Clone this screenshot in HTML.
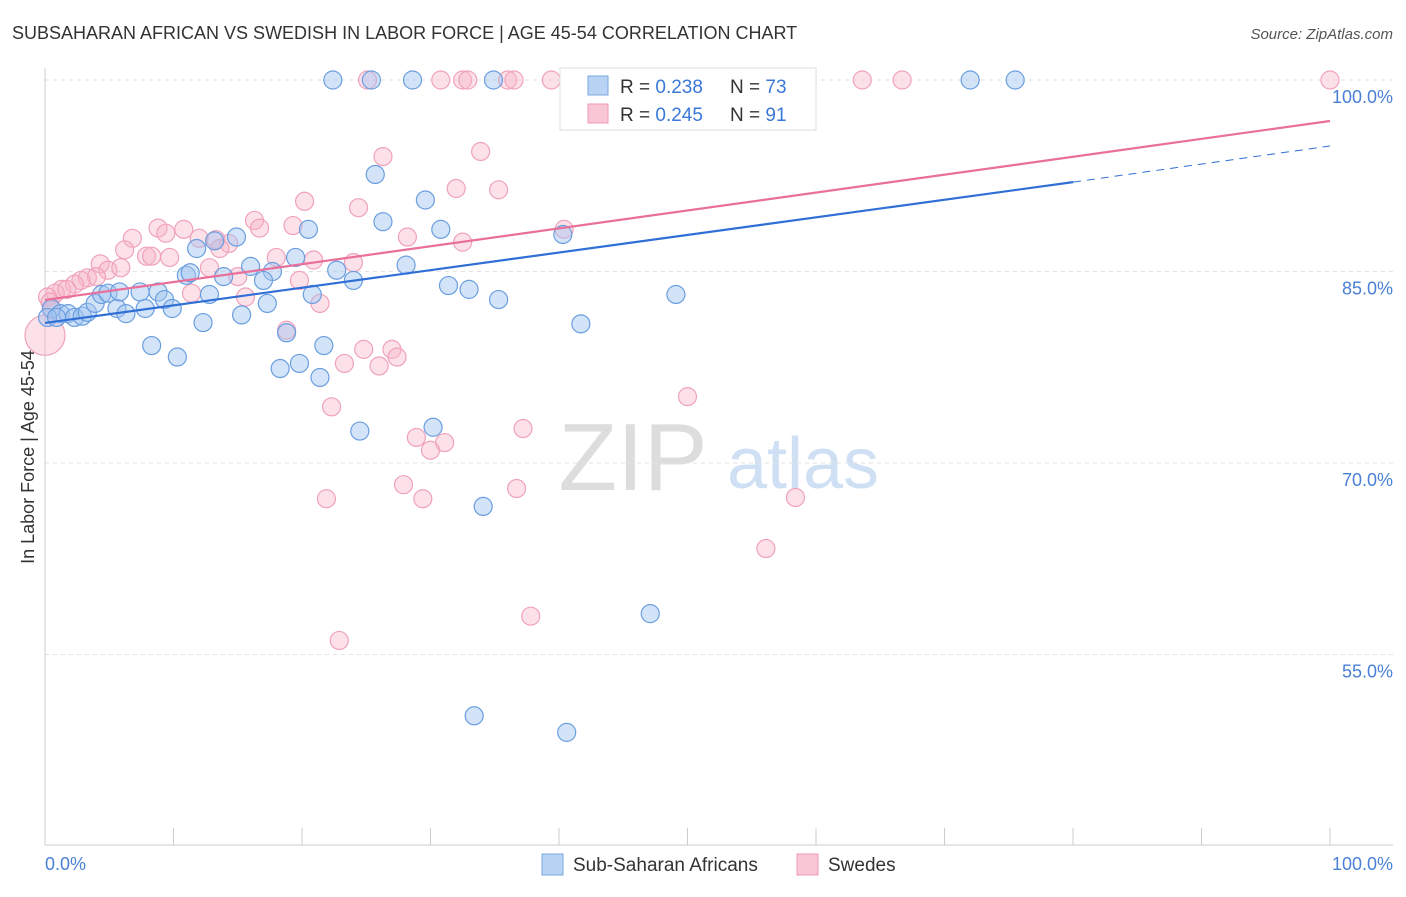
<!DOCTYPE html>
<html><head><meta charset="utf-8"><style>
body{margin:0;background:#fff;font-family:"Liberation Sans",sans-serif;}
svg text{font-family:"Liberation Sans",sans-serif;}
</style></head><body>
<svg id="chart" width="1406" height="892" xmlns="http://www.w3.org/2000/svg">
<text x="12" y="39" font-size="18" fill="#333">SUBSAHARAN AFRICAN VS SWEDISH IN LABOR FORCE | AGE 45-54 CORRELATION CHART</text>
<text x="1393" y="39" font-size="15" fill="#555" font-style="italic" text-anchor="end">Source: ZipAtlas.com</text>
<text transform="translate(34,457) rotate(-90)" font-size="18" fill="#333" text-anchor="middle">In Labor Force | Age 45-54</text>
<g><text x="633" y="490" font-size="96" fill="#ddd" font-family="Liberation Serif" text-anchor="middle">ZIP</text><text x="803" y="488" font-size="72" fill="#cfe0f5" text-anchor="middle">atlas</text></g>
<g id="grid"></g><g id="axes"></g><g id="pts"></g><g id="lines"></g>
<g>
<rect x="560" y="68" width="256" height="62" fill="#fff" stroke="#ddd"/>
<rect x="588" y="76" width="20" height="19" fill="#b9d3f5" stroke="#7aa7e0"/>
<rect x="588" y="104" width="20" height="19" fill="#f9c6d6" stroke="#ef9ab5"/>
<text x="620" y="93" font-size="19" fill="#333">R = <tspan fill="#3a78d8">0.238</tspan><tspan x="730">N = </tspan><tspan fill="#3a78d8">73</tspan></text>
<text x="620" y="121" font-size="19" fill="#333">R = <tspan fill="#3a78d8">0.245</tspan><tspan x="730">N = </tspan><tspan fill="#3a78d8">91</tspan></text>
</g>
<g>
<rect x="542" y="854" width="21" height="21" fill="#b9d3f5" stroke="#7aa7e0"/>
<text x="573" y="871" font-size="19" fill="#333">Sub-Saharan Africans</text>
<rect x="797" y="854" width="21" height="21" fill="#f9c6d6" stroke="#ef9ab5"/>
<text x="828" y="871" font-size="19" fill="#333">Swedes</text>
</g>
</svg>
<script>
const yTicks=[100,85,70,55];
const xTickLabels=["0.0%","100.0%"];
const blueX=[22.4,25.4,28.6,34.9,41.1,54.5,72.0,75.5,25.7,29.6,26.3,20.5,30.8,14.9,40.3,11.8,13.2,19.5,28.1,22.7,16.0,17.7,11.0,11.3,13.9,17.0,24.0,31.4,33.0,35.3,49.1,0.5,1.2,1.8,2.3,2.9,3.3,3.9,4.4,4.9,5.6,5.8,6.3,7.4,7.8,8.8,9.3,9.9,12.8,12.3,15.3,17.3,20.8,41.7,18.8,8.3,10.3,21.7,18.3,19.8,21.4,24.5,30.2,34.1,47.1,33.4,40.6,0.2,0.9];
const blueY=[100,100,100,100,100,100,100,100,92.6,90.6,88.9,88.3,88.3,87.7,87.9,86.8,87.4,86.1,85.5,85.1,85.4,85.0,84.7,84.9,84.6,84.3,84.3,83.9,83.6,82.8,83.2,82.1,81.7,81.7,81.4,81.5,81.8,82.5,83.2,83.3,82.1,83.4,81.7,83.4,82.1,83.4,82.8,82.1,83.2,81.0,81.6,82.5,83.2,80.9,80.2,79.2,78.3,79.2,77.4,77.8,76.7,72.5,72.8,66.6,58.2,50.2,48.9,81.4,81.4];
const pinkX=[25.1,30.8,32.5,32.9,36.0,36.5,39.4,41.4,53.7,63.6,66.7,100,26.3,33.9,32.0,35.3,20.2,24.4,16.3,19.3,16.7,8.8,10.8,9.4,6.8,28.2,40.4,12.0,14.3,13.3,6.2,32.5,7.9,8.3,9.7,13.6,18.0,20.9,24.0,4.3,4.9,5.9,12.8,3.3,4.0,2.8,2.3,15.0,19.8,1.3,0.8,1.7,0.2,0.4,0,11.4,15.6,21.4,18.8,24.8,27.0,27.4,26.0,23.3,22.3,28.9,31.1,30.0,37.2,50.0,21.9,27.9,29.4,36.7,58.4,56.1,37.8,22.9,0.5];
const pinkY=[100,100,100,100,100,100,100,100,100,100,100,100,94.0,94.4,91.5,91.4,90.5,90.0,89.0,88.6,88.4,88.4,88.3,88.0,87.6,87.7,88.3,87.6,87.2,87.5,86.7,87.3,86.2,86.2,86.1,86.8,86.1,85.9,85.7,85.6,85.1,85.3,85.3,84.5,84.6,84.3,84.0,84.6,84.3,83.6,83.3,83.6,83.0,82.6,80.0,83.3,83.0,82.5,80.4,78.9,78.9,78.3,77.6,77.8,74.4,72.0,71.6,71.0,72.7,75.2,67.2,68.3,67.2,68.0,67.3,63.3,58.0,56.1,82.0];
const blueTrend=[80.97,92.0,94.83]; // at x=0, 80, 100
const pinkTrend=[82.77,96.79];       // at x=0, 100
const NS="http://www.w3.org/2000/svg";
const X=v=>45+v*12.85;
const Y=v=>80+(100-v)/15*191.5;
function mk(tag,attrs,parent){const e=document.createElementNS(NS,tag);for(const k in attrs)e.setAttribute(k,attrs[k]);parent.appendChild(e);return e;}
const grid=document.getElementById('grid'),axes=document.getElementById('axes'),pts=document.getElementById('pts'),lines=document.getElementById('lines');
yTicks.forEach(t=>{
 const l=mk('line',{x1:45,x2:1393,y1:Y(t),y2:Y(t),stroke:'#e2e2e2','stroke-dasharray':'4,4'},grid);
 
 
 const tx=mk('text',{x:1393,y:Y(t)+23,'font-size':18,fill:'#4a80d6','text-anchor':'end'},axes);
 tx.textContent=t.toFixed(1)+'%';
 
 
});
mk('line',{x1:45,x2:45,y1:68,y2:845,stroke:'#ccc'},axes);
mk('line',{x1:45,x2:1393,y1:845,y2:845,stroke:'#ccc'},axes);
for(let i=0;i<=10;i++){const t=mk('line',{x1:X(i*10),x2:X(i*10),y1:828,y2:845,stroke:'#ccc'},axes);
 
 }
const xl0=mk('text',{x:45,y:870,'font-size':18,fill:'#4a80d6'},axes);xl0.textContent=xTickLabels[0];


const xl1=mk('text',{x:1393,y:870,'font-size':18,fill:'#4a80d6','text-anchor':'end'},axes);xl1.textContent=xTickLabels[1];


pinkX.forEach((x,i)=>{const r=(x===0&&pinkY[i]===80)?20:9;
 const c=mk('circle',{cx:X(x),cy:Y(pinkY[i]),r:r,fill:'rgba(248,180,200,0.4)',stroke:'#f0a2bb','stroke-width':1.2},pts);
 
 });
blueX.forEach((x,i)=>{
 const c=mk('circle',{cx:X(x),cy:Y(blueY[i]),r:9,fill:'rgba(160,196,240,0.45)',stroke:'#6a9ee0','stroke-width':1.2},pts);
 
 });
const bl=mk('line',{x1:X(0),y1:Y(blueTrend[0]),x2:X(80),y2:Y(blueTrend[1]),stroke:'#2f6fd6','stroke-width':2.2},lines);


const bd=mk('line',{x1:X(80),y1:Y(blueTrend[1]),x2:X(100),y2:Y(blueTrend[2]),stroke:'#2f6fd6','stroke-width':1,'stroke-dasharray':'8,6'},lines);


const pl=mk('line',{x1:X(0),y1:Y(pinkTrend[0]),x2:X(100),y2:Y(pinkTrend[1]),stroke:'#e8709a','stroke-width':2.2},lines);


</script>
</body></html>
